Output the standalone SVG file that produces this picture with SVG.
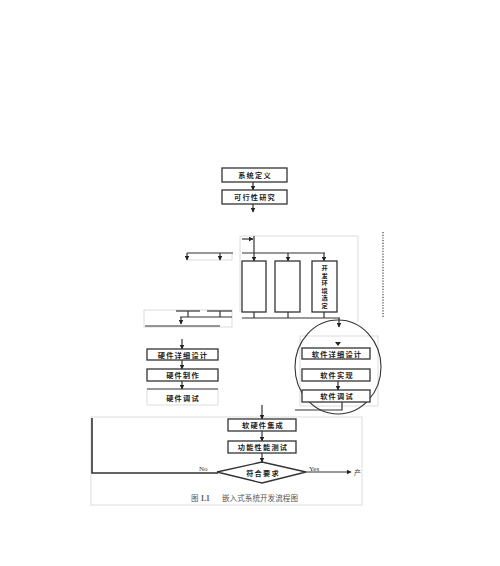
<svg xmlns="http://www.w3.org/2000/svg" width="500" height="566" viewBox="0 0 500 566">
<defs>
<marker id="ah" viewBox="0 0 10 10" refX="9" refY="5" markerWidth="5" markerHeight="5" orient="auto" markerUnits="userSpaceOnUse">
<path d="M0,0 L10,5 L0,10 z" fill="#222"/>
</marker>
</defs>
<style>
.box{fill:#fff;stroke:#333;stroke-width:1.3}
.t{font-family:"Noto Sans CJK SC","Liberation Sans",sans-serif;font-size:7.2px;fill:#222;text-anchor:middle;letter-spacing:1.2px;font-weight:bold}
.v{font-family:"Noto Sans CJK SC","Liberation Sans",sans-serif;font-size:6.2px;fill:#222;text-anchor:middle;font-weight:bold}
.ln{fill:none;stroke:#333;stroke-width:1.2}
.ar{fill:none;stroke:#333;stroke-width:1.2;marker-end:url(#ah)}
.faint{fill:none;stroke:#dcdcdc;stroke-width:1}
.lbl{font-family:"Liberation Serif","Noto Sans CJK SC",serif;font-size:7px;fill:#333}
.cap{font-family:"Liberation Serif","Noto Sans CJK SC",serif;font-size:7.5px;fill:#555}
</style>
<rect width="500" height="566" fill="#fff"/>

<g id="frames">
<polyline class="faint" points="240,312 240,236 358,236 358,322"/>
<polyline class="faint" points="187,260 232,260 232,253"/>
<rect class="faint" x="144" y="310" width="88" height="17"/>
<polyline class="faint" points="147,389 147,405 218,405 218,389"/>
<rect class="faint" x="300" y="336" width="78" height="70"/>
<rect class="faint" x="91" y="417" width="271" height="88"/>
</g>

<g id="connectors">
<line class="ar" x1="253" y1="182" x2="253" y2="190"/>
<line class="ar" x1="253" y1="204" x2="253" y2="212"/>
<line class="ln" x1="187" y1="253" x2="233" y2="253"/>
<line class="ar" x1="187" y1="253" x2="187" y2="260"/>
<line class="ar" x1="220" y1="253" x2="220" y2="260"/>
<line class="ar" x1="242" y1="239" x2="253" y2="239"/>
<line class="ln" x1="254" y1="236" x2="254" y2="253"/>
<line class="ln" x1="242" y1="253" x2="325" y2="253"/>
<line class="ar" x1="254" y1="253" x2="254" y2="261"/>
<line class="ar" x1="288" y1="253" x2="288" y2="261"/>
<line class="ar" x1="324" y1="253" x2="324" y2="261"/>
<line class="ln" x1="254" y1="312" x2="254" y2="318"/>
<line class="ln" x1="288" y1="312" x2="288" y2="318"/>
<line class="ln" x1="324" y1="312" x2="324" y2="318"/>
<line class="ln" x1="242" y1="318" x2="340" y2="318"/>
<line class="ar" x1="339" y1="318" x2="339" y2="327"/>
<line class="ln" x1="176" y1="311" x2="200" y2="311"/>
<line class="ln" x1="207" y1="311" x2="232" y2="311"/>
<line class="ln" x1="188" y1="311" x2="188" y2="317"/>
<line class="ln" x1="220" y1="311" x2="220" y2="317"/>
<line class="ln" x1="180" y1="317" x2="232" y2="317"/>
<line class="ar" x1="181" y1="317" x2="181" y2="324"/>
<line class="ln" x1="145" y1="326" x2="220" y2="326"/>
<line class="ar" x1="182" y1="339" x2="182" y2="349"/>
<line class="ar" x1="182" y1="360" x2="182" y2="369"/>
<line class="ar" x1="182" y1="381" x2="182" y2="389"/>
<line class="ln" x1="147" y1="389" x2="218" y2="389"/>
<path d="M335,342 L341,342 L338,346 z" fill="#222"/>
<line class="ar" x1="338" y1="381" x2="338" y2="390"/>
<polyline class="ln" points="295,410 342,410 342,402"/>
<ellipse cx="338" cy="367" rx="43" ry="47" fill="none" stroke="#333" stroke-width="1.1"/>
<line class="ar" x1="262" y1="405" x2="262" y2="419"/>
<line class="ar" x1="262" y1="431" x2="262" y2="441"/>
<line class="ar" x1="262" y1="453" x2="262" y2="462"/>
<polyline fill="none" stroke="#333" stroke-width="1.6" points="92,418 92,473 218,473"/>
<line class="ar" x1="306" y1="472" x2="351" y2="472"/>
<line x1="383" y1="232" x2="383" y2="318" stroke="#444" stroke-width="1.2" stroke-dasharray="1.2,1.5"/>
</g>

<g id="n-sysdef"><rect class="box" x="222" y="168" width="65" height="14"/><text class="t" x="255" y="178">系统定义</text></g>
<g id="n-feas"><rect class="box" x="222" y="190" width="65" height="14"/><text class="t" x="255" y="200">可行性研究</text></g>
<g id="n-colA"><rect class="box" x="242" y="261" width="24" height="51"/></g>
<g id="n-colB"><rect class="box" x="275" y="261" width="25" height="51"/></g>
<g id="n-colC"><rect class="box" x="312" y="261" width="25" height="51"/>
<text class="v" x="324.5" y="270">开</text>
<text class="v" x="324.5" y="277.5">发</text>
<text class="v" x="324.5" y="285">环</text>
<text class="v" x="324.5" y="292.5">境</text>
<text class="v" x="324.5" y="300">选</text>
<text class="v" x="324.5" y="307.5">定</text></g>
<g id="n-hwdesign"><rect class="box" x="147" y="349" width="71" height="11"/><text class="t" x="183" y="357.5">硬件详细设计</text></g>
<g id="n-hwmake"><rect class="box" x="147" y="369" width="71" height="12"/><text class="t" x="183" y="378">硬件制作</text></g>
<g id="n-hwtest"><text class="t" x="183" y="400.5">硬件调试</text></g>
<g id="n-swdesign"><rect class="box" x="302" y="348" width="68" height="11"/><text class="t" x="337" y="356.5">软件详细设计</text></g>
<g id="n-swimpl"><rect class="box" x="302" y="369" width="68" height="12"/><text class="t" x="337" y="378">软件实现</text></g>
<g id="n-swtest"><rect class="box" x="302" y="390" width="68" height="12"/><text class="t" x="337" y="399">软件调试</text></g>
<g id="n-integ"><rect class="box" x="228" y="419" width="68" height="12"/><text class="t" x="263" y="428">软硬件集成</text></g>
<g id="n-functest"><rect class="box" x="228" y="441" width="68" height="12"/><text class="t" x="263" y="450">功能性能测试</text></g>
<g id="n-decision"><polygon points="217,472 262,462 306,472 262,483" fill="#fff" stroke="#333" stroke-width="1.3"/><text class="t" x="263" y="475.5">符合要求</text></g>

<g id="labels">
<text class="lbl" x="199" y="471">No</text>
<text class="lbl" x="309" y="471">Yes</text>
<text class="lbl" x="354" y="475">产</text>
<text class="cap" x="191" y="501">图 <tspan font-weight="bold">1.1</tspan></text>
<text class="cap" x="222" y="501" letter-spacing="0.1">嵌入式系统开发流程图</text>
</g>
</svg>
